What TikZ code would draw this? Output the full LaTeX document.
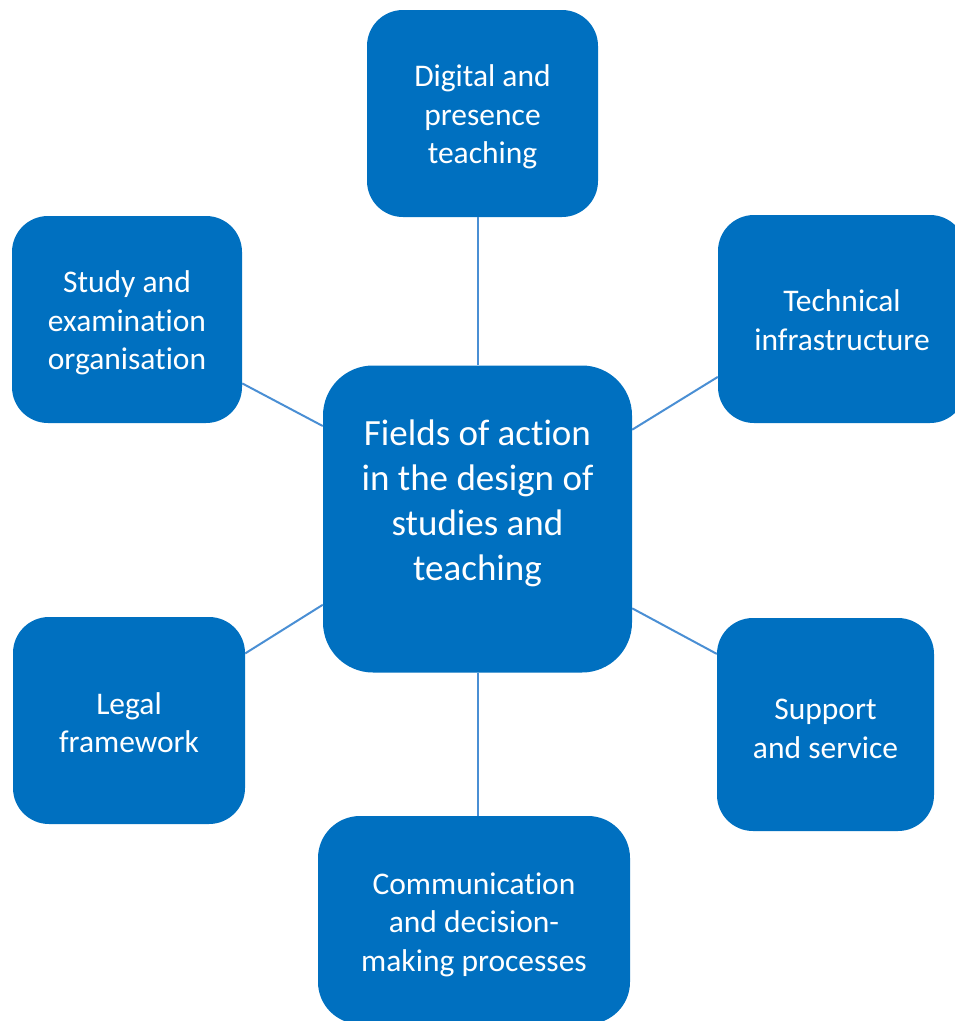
\documentclass[tikz,border=0pt]{standalone}
\usepackage{fontspec}
\setmainfont{Carlito}[Ligatures=NoCommon]
\definecolor{boxblue}{HTML}{0070C0}
\definecolor{lineblue}{HTML}{4A8FD4}
\tikzset{
  box/.style={fill=boxblue, draw=none, rounded corners=36pt, inner sep=0pt},
  bigbox/.style={box, rounded corners=50pt},
  bt/.style={text=white, align=center, inner sep=0pt, font=\fontsize{31.5}{38.5}\selectfont},
  ctext/.style={text=white, align=center, inner sep=0pt, font=\fontsize{37}{45}\selectfont},
  link/.style={draw=lineblue, line width=2pt}
}
\begin{document}
\begin{tikzpicture}[x=1pt,y=-1pt]
\useasboundingbox (0,0) rectangle (955,1021);
\clip (0,0) rectangle (955,1021);
% boxes
\node[box, minimum width=231pt, minimum height=207pt,
  label={[bt,yshift=-3.5pt]center:{Digital and\\presence\\teaching}}] (top) at (482.5,113.5) {};
\node[box, minimum width=230pt, minimum height=207pt,
  label={[bt,yshift=-3.5pt]center:{Study and\\examination\\organisation}}] (lt) at (127,319.5) {};
\node[box, minimum width=248pt, minimum height=208pt,
  label={[bt,yshift=-1pt]center:{Technical\\infrastructure}}] (rt) at (842,319) {};
\node[box, minimum width=232pt, minimum height=207pt,
  label={[bt,yshift=-2pt]center:{Legal\\framework}}] (lb) at (129,720.5) {};
\node[box, minimum width=217pt, minimum height=213pt,
  label={[bt,yshift=-4.5pt]center:{Support\\and service}}] (rb) at (825.5,724.5) {};
\node[box, minimum width=312pt, minimum height=208pt, rounded corners=42pt,
  label={[bt,yshift=-4.5pt]center:{Communication\\and decision-\\making processes}}] (bot) at (474,920) {};
\node[bigbox, minimum width=309pt, minimum height=307pt] (c) at (477.5,519) {};
\node[ctext] (ct) at (477.5,503) {Fields of action\\in the design of\\studies and\\teaching};
% connectors
\draw[link] (c.north) -- (c.north |- top.south);
\draw[link] (c.south) -- (c.south |- bot.north);
\draw[link] (c.149.5) -- (lt.331.1);
\draw[link] (c.30.5) -- (rt.205.4);
\draw[link] (c.209.4) -- (lb.30.6);
\draw[link] (c.330.3) -- (rb.147.9);
\end{tikzpicture}
\end{document}
